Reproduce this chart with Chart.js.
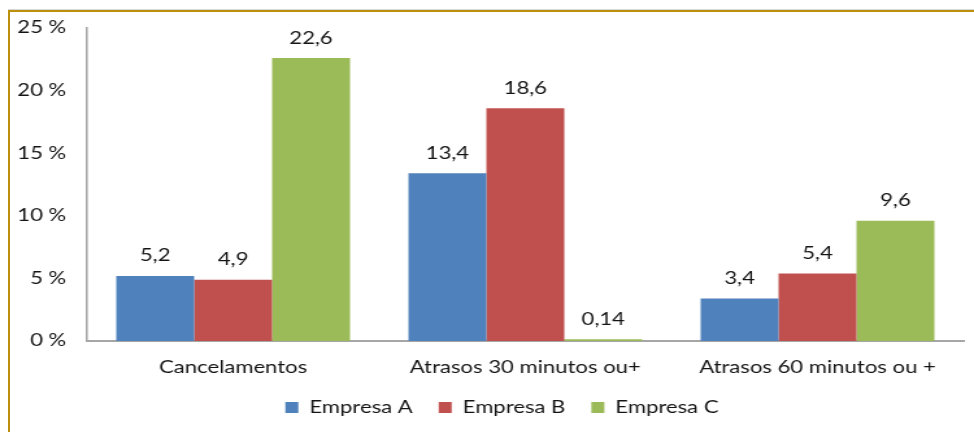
<!DOCTYPE html>
<html>
<head>
<meta charset="utf-8">
<script src="https://cdn.jsdelivr.net/npm/chart.js@4/dist/chart.umd.min.js"></script>
<style>
  html, body { margin: 0; padding: 0; background: #fff; }
  #wrap { position: relative; width: 974px; height: 432px; overflow: hidden; }
  /* the chart is laid out 750px wide and widened to the full 974px */
  #stage { position: absolute; left: 0; top: 0; width: 750px; height: 432px;
           transform-origin: 0 0; transform: scaleX(1.29867); }
  #frame {
    position: absolute; left: 8px; top: 10px; width: 1000px; height: 500px;
    border-left: 2px solid #bc8f0c; border-top: 2px solid #bc8f0c;
    box-shadow: 0 -1px 0 #d8d8d8;
    pointer-events: none;
  }
</style>
</head>
<body>
<div id="wrap">
  <div id="stage"><canvas id="c" width="750" height="432"></canvas></div>
  <div id="frame"></div>
</div>
<script>
const categories = ['Cancelamentos', 'Atrasos 30 minutos ou+', 'Atrasos 60 minutos ou +'];
const seriesNames = ['Empresa A', 'Empresa B', 'Empresa C'];
const empresaA = [5.2, 13.4, 3.4];
const empresaB = [4.9, 18.6, 5.4];
const empresaC = [22.6, 0.14, 9.6];
const yTicks = [0, 5, 10, 15, 20, 25];

const colors = ['#4f81bd', '#c0504d', '#9bbb59'];
const FONT = 'Lato, "Open Sans", sans-serif';
const SIZE = 17;
const TEXT = '#141414';
const LEGEND_SHIFT = 15.5;

const fmt = v => String(v).replace('.', ',');

// writes each bar's value above it
const valueLabels = {
  id: 'valueLabels',
  afterDatasetsDraw(chart) {
    const ctx = chart.ctx;
    ctx.save();
    ctx.font = SIZE + 'px ' + FONT;
    ctx.fillStyle = TEXT;
    ctx.textAlign = 'center';
    ctx.textBaseline = 'middle';
    chart.data.datasets.forEach((ds, i) => {
      chart.getDatasetMeta(i).data.forEach((bar, j) => {
        ctx.fillText(fmt(ds.data[j]), bar.x, bar.y - 20);
      });
    });
    ctx.restore();
  }
};

// centres the legend under the plot area rather than the whole canvas
const legendOffset = {
  id: 'legendOffset',
  afterLayout(chart) {
    if (chart.legend) {
      chart.legend.left += LEGEND_SHIFT;
      chart.legend.right += LEGEND_SHIFT;
    }
  }
};

new Chart(document.getElementById('c'), {
  type: 'bar',
  data: {
    labels: categories,
    datasets: [empresaA, empresaB, empresaC].map((d, i) => ({
      label: seriesNames[i],
      data: d,
      backgroundColor: colors[i],
      borderWidth: 0,
      categoryPercentage: 0.8,
      barPercentage: 1.0
    }))
  },
  options: {
    responsive: false,
    animation: false,
    layout: { padding: { left: 0, right: 8, top: 28, bottom: 6 } },
    scales: {
      x: {
        grid: { display: false, drawTicks: false },
        border: { color: '#a6a6a6', width: 2 },
        ticks: { color: TEXT, font: { family: FONT, size: SIZE }, padding: 16 },
        afterFit(s) { s.height = 38; }
      },
      y: {
        min: 0, max: 25,
        afterBuildTicks(s) { s.ticks = yTicks.map(v => ({ value: v })); },
        grid: { display: false, drawTicks: false },
        border: { color: '#a6a6a6', width: 1.6 },
        ticks: {
          color: TEXT, font: { family: FONT, size: SIZE }, padding: 16,
          callback: v => v + ' %'
        },
        afterFit(s) { s.width = 67; }
      }
    },
    plugins: {
      legend: {
        position: 'bottom',
        labels: {
          color: TEXT, font: { family: FONT, size: SIZE },
          boxWidth: 10, boxHeight: 11, padding: 20
        }
      },
      tooltip: { enabled: false }
    }
  },
  plugins: [valueLabels, legendOffset]
});
</script>
</body>
</html>
